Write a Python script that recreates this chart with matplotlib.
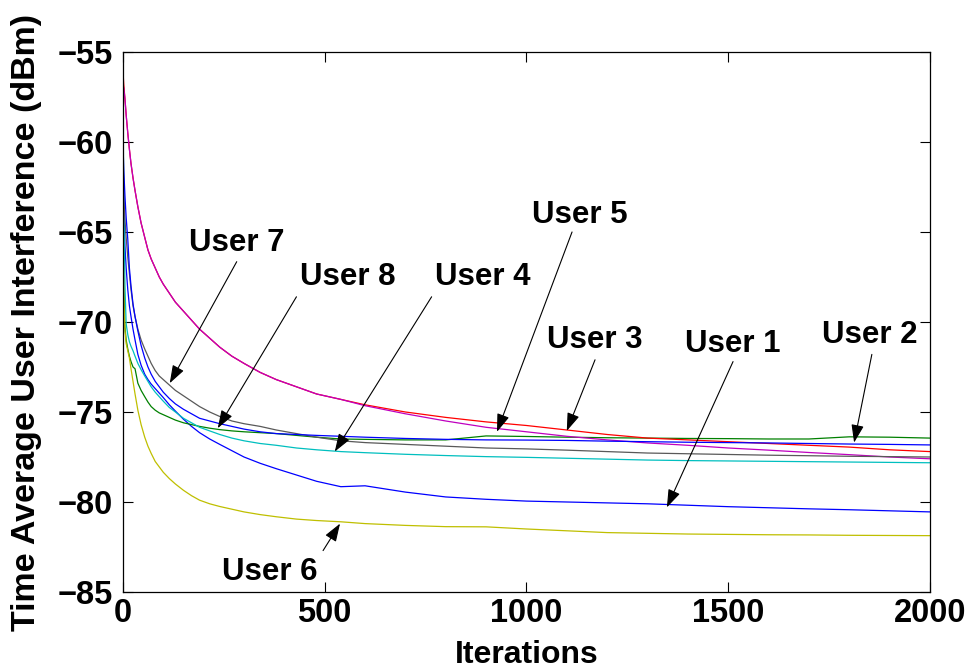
import matplotlib
matplotlib.use("Agg")
import matplotlib.pyplot as plt

plt.rcParams['font.family'] = ['Liberation Sans', 'DejaVu Sans']
plt.rcParams['axes.unicode_minus'] = True

iterations = [0, 2, 5, 8, 12, 16, 20, 25, 30, 37,
              45, 54, 62, 70, 80, 90, 100, 115, 130, 150,
              170, 190, 215, 240, 270, 300, 340, 380, 430, 480,
              540, 600, 700, 800, 900, 1000, 1100, 1200, 1300, 1400,
              1500, 1600, 1700, 1800, 1900, 2000]

user1 = [-61.0, -63.5, -65.8, -67.0, -68.2, -69.1, -69.7, -70.4, -71.0, -71.8,
         -72.4, -72.9, -73.2, -73.45, -73.7, -73.95, -74.2, -74.6, -74.95, -75.4,
         -75.8, -76.15, -76.5, -76.8, -77.15, -77.5, -77.85, -78.15, -78.5, -78.85,
         -79.15, -79.1, -79.45, -79.72, -79.85, -79.95, -80.0, -80.05, -80.1, -80.18,
         -80.26, -80.32, -80.38, -80.43, -80.49, -80.55]
user2 = [-63.0, -68.0, -70.3, -71.0, -71.5, -71.9, -72.2, -72.5, -72.6, -73.4,
         -73.8, -74.15, -74.45, -74.7, -74.9, -75.05, -75.15, -75.3, -75.45, -75.6,
         -75.7, -75.8, -75.9, -75.98, -76.05, -76.1, -76.15, -76.2, -76.3, -76.4,
         -76.5, -76.52, -76.55, -76.55, -76.33, -76.36, -76.4, -76.43, -76.45, -76.47,
         -76.48, -76.5, -76.5, -76.38, -76.4, -76.45]
user3 = [-56.0, -56.8, -57.6, -58.5, -59.5, -60.4, -61.2, -62.0, -62.7, -63.6,
         -64.5, -65.3, -66.0, -66.5, -67.0, -67.5, -67.9, -68.4, -68.9, -69.4,
         -69.9, -70.4, -70.9, -71.4, -71.9, -72.3, -72.8, -73.2, -73.6, -74.0,
         -74.3, -74.6, -75.0, -75.3, -75.55, -75.75, -76.0, -76.25, -76.45, -76.55,
         -76.65, -76.75, -76.85, -76.95, -77.1, -77.2]
user4 = [-57.3, -63.0, -68.0, -70.1, -70.7, -71.1, -71.35, -71.6, -71.9, -72.3,
         -72.65, -73.0, -73.3, -73.6, -73.9, -74.15, -74.4, -74.75, -75.0, -75.35,
         -75.6, -75.85, -76.05, -76.25, -76.45, -76.6, -76.75, -76.85, -77.0, -77.1,
         -77.2, -77.26, -77.35, -77.42, -77.48, -77.52, -77.57, -77.62, -77.67, -77.7,
         -77.72, -77.74, -77.76, -77.78, -77.8, -77.82]
user5 = [-56.8, -57.0, -57.6, -58.5, -59.5, -60.4, -61.2, -62.0, -62.7, -63.6,
         -64.5, -65.3, -66.0, -66.5, -67.0, -67.5, -67.9, -68.4, -68.9, -69.4,
         -69.9, -70.4, -70.9, -71.4, -71.9, -72.3, -72.8, -73.2, -73.6, -74.0,
         -74.3, -74.65, -75.1, -75.5, -75.85, -76.1, -76.35, -76.55, -76.72, -76.85,
         -77.0, -77.12, -77.25, -77.37, -77.5, -77.6]
user6 = [-64.0, -68.5, -70.5, -71.2, -71.6, -72.0, -72.6, -73.3, -74.0, -74.9,
         -75.7, -76.4, -76.9, -77.3, -77.75, -78.05, -78.35, -78.7, -79.0, -79.35,
         -79.65, -79.9, -80.1, -80.25, -80.4, -80.55, -80.7, -80.82, -80.95, -81.03,
         -81.1, -81.2, -81.3, -81.37, -81.38, -81.5, -81.6, -81.7, -81.74, -81.78,
         -81.8, -81.82, -81.83, -81.85, -81.86, -81.87]
user7 = [-61.5, -63.0, -64.3, -65.3, -66.4, -67.3, -68.2, -69.1, -69.7, -70.4,
         -71.0, -71.5, -71.9, -72.3, -72.7, -73.0, -73.2, -73.5, -73.8, -74.1,
         -74.4, -74.7, -75.0, -75.25, -75.5, -75.65, -75.8, -76.0, -76.2, -76.4,
         -76.6, -76.7, -76.8, -76.9, -77.0, -77.05, -77.12, -77.2, -77.28, -77.32,
         -77.36, -77.4, -77.43, -77.46, -77.48, -77.5]
user8 = [-60.0, -61.5, -63.0, -64.2, -65.4, -67.0, -68.0, -69.0, -69.7, -70.5,
         -71.3, -72.0, -72.5, -72.9, -73.3, -73.6, -73.9, -74.25, -74.55, -74.85,
         -75.1, -75.35, -75.5, -75.65, -75.8, -75.95, -76.1, -76.2, -76.25, -76.3,
         -76.35, -76.4, -76.47, -76.52, -76.55, -76.56, -76.58, -76.62, -76.65, -76.68,
         -76.7, -76.72, -76.75, -76.78, -76.8, -76.83]

series = [user1, user2, user3, user4, user5, user6, user7, user8]
colors = [(0, 0, 1), (0, 0.5, 0), (1, 0, 0), (0, 0.75, 0.75),
          (0.75, 0, 0.75), (0.75, 0.75, 0), (0.35, 0.35, 0.35), (0, 0, 1)]

labels = ["User 7", "User 8", "User 4", "User 5", "User 3", "User 1", "User 2", "User 6"]
label_xy = [(282, -65.6), (558, -67.5), (892, -67.5), (1133, -64.05),
            (1170, -71.0), (1512, -71.2), (1851, -70.7), (364, -83.9)]
arrow_tail = [(282, -66.65), (430, -68.6), (765, -68.6), (1113, -65.0),
              (1170, -72.1), (1512, -72.2), (1856, -71.8), (496, -82.7)]
arrow_tip = [(116, -73.4), (235, -75.9), (525, -77.2), (927, -76.1),
             (1100, -76.05), (1348, -80.3), (1812, -76.7), (538, -81.2)]

xticks = [0, 500, 1000, 1500, 2000]
yticks = [-85, -80, -75, -70, -65, -60, -55]

fig = plt.figure(figsize=(9.68, 6.69), dpi=100)
ax = fig.add_axes([0.127, 0.1151, 0.8337, 0.8072])

for ys, c in zip(series, colors):
    ax.plot(iterations, ys, color=c, lw=0.9)

for lab, (tx, ty), (ax0, ay0), (ax1, ay1) in zip(labels, label_xy, arrow_tail, arrow_tip):
    ax.text(tx, ty, lab, ha='center', va='center', fontsize=22.5, fontweight='bold')
    ax.annotate('', xy=(ax1, ay1), xytext=(ax0, ay0),
                arrowprops=dict(arrowstyle='-|>,head_length=1.0,head_width=0.35',
                                color='black', lw=0.8, shrinkA=0, shrinkB=0,
                                mutation_scale=11))

ax.set_xlim(0, 2000)
ax.set_ylim(-85, -55)
ax.set_xticks(xticks)
ax.set_yticks(yticks)
ax.tick_params(direction='in', top=True, right=True, length=7, width=0.8,
               labelsize=23.5)
ax.tick_params(axis='x', pad=4)
ax.tick_params(axis='y', pad=7)
for lbl in ax.get_xticklabels() + ax.get_yticklabels():
    lbl.set_fontweight('bold')
for s in ax.spines.values():
    s.set_linewidth(0.9)

ax.set_xlabel("Iterations", fontsize=23, fontweight='bold')
ax.xaxis.set_label_coords(0.5, -0.088)
ax.xaxis.label.set_va('top')
ax.set_ylabel("Time Average User Interference (dBm)", fontsize=24.5, fontweight='bold')
ax.yaxis.set_label_coords(-0.1, 0.5)

fig.savefig("out.png", dpi=100)
